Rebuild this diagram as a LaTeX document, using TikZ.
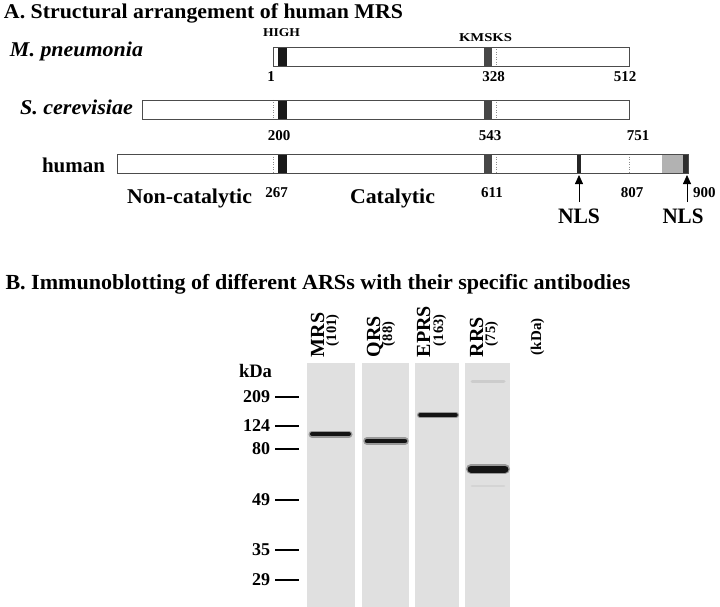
\documentclass[tikz,border=0pt]{standalone}
\usepackage{fontspec}
\setmainfont{Liberation Serif}
\usetikzlibrary{arrows.meta}
\newcommand{\fw}[2]{\resizebox{#1}{\height}{#2}}
\newcommand{\fsz}[1]{\fontsize{#1}{#1}\selectfont}
\begin{document}
\begin{tikzpicture}[x=1pt,y=-1pt,
  txt/.style={inner sep=0pt, outer sep=0pt},
  baroutline/.style={draw=black!70, line width=0.9pt},
  barfill/.style={fill=white},
  hband/.style={fill=black!90},
  kband/.style={fill=black!72},
  dotl/.style={draw=black!45, dotted, line width=0.5pt},
  marktick/.style={line width=2.6pt, draw=black},
  lane/.style={fill=black!12},
  wband/.style={line width=#1, draw=black!92, line cap=round},
  hband2/.style={line width=#1, draw=black!40, line cap=round},
  fband/.style={line width=#1, draw=black!22, line cap=round},
  nlsarrow/.style={draw=black, line width=0.8pt, -{Triangle[width=8pt,length=9pt]}},
]
\useasboundingbox (0,0) rectangle (720,607);

% ---------------- Section A ----------------
\node[txt, anchor=base west] (titleA) at (4,19) {\fw{399pt}{\fsz{21}\bfseries A. Structural arrangement of human MRS}};

\node[txt, anchor=base west] (high) at (263,37) {\fw{37pt}{\fsz{12}\bfseries HIGH}};
\node[txt, anchor=base west] (kmsks) at (459,42) {\fw{53pt}{\fsz{12}\bfseries KMSKS}};

% M. pneumonia
\node[txt, anchor=base west] (mpn) at (10,57) {\fw{133pt}{\fsz{21}\bfseries\itshape M. pneumonia}};
\fill[barfill] (273,47) rectangle (629,66);
\fill[hband] (278,47) rectangle (287,66);
\fill[kband] (484,47) rectangle (492,66);
\draw[dotl] (496,47) -- (496,66);
\draw[baroutline] (273,47) rectangle (629,66);
\node[txt, anchor=base] (n1) at (271,82) {\fsz{15}\bfseries 1};
\node[txt, anchor=base] (n328) at (493.5,82) {\fsz{15}\bfseries 328};
\node[txt, anchor=base] (n512) at (625,82) {\fsz{15}\bfseries 512};

% S. cerevisiae
\node[txt, anchor=base west] (scer) at (20,115) {\fw{113pt}{\fsz{21}\bfseries\itshape S. cerevisiae}};
\fill[barfill] (142,100) rectangle (629,119);
\draw[dotl] (273,100) -- (273,119);
\fill[hband] (278,100) rectangle (287,119);
\fill[kband] (484,100) rectangle (492,119);
\draw[dotl] (496,100) -- (496,119);
\draw[baroutline] (142,100) rectangle (629,119);
\node[txt, anchor=base] (n200) at (279,140) {\fsz{15}\bfseries 200};
\node[txt, anchor=base] (n543) at (490,140) {\fsz{15}\bfseries 543};
\node[txt, anchor=base] (n751) at (638,140) {\fsz{15}\bfseries 751};

% human
\node[txt, anchor=base west] (human) at (42,172) {\fw{63pt}{\fsz{21}\bfseries human}};
\fill[barfill] (117,154) rectangle (688,173);
\draw[dotl] (273,154) -- (273,173);
\fill[hband] (278,154) rectangle (287,173);
\fill[kband] (484,154) rectangle (492,173);
\draw[dotl] (496,154) -- (496,173);
\fill[black!85] (577,154) rectangle (581,173);
\draw[dotl] (629,154) -- (629,173);
\fill[black!30] (662,154) rectangle (683,173);
\fill[black!82] (683,154) rectangle (688,173);
\draw[baroutline] (117,154) rectangle (688,173);

\node[txt, anchor=base west] (noncat) at (127,203) {\fw{125pt}{\fsz{21}\bfseries Non-catalytic}};
\node[txt, anchor=base west] (cat) at (350,203) {\fw{85pt}{\fsz{21}\bfseries Catalytic}};
\node[txt, anchor=base] (n267) at (276.5,197) {\fsz{15}\bfseries 267};
\node[txt, anchor=base] (n611) at (492,197) {\fsz{15}\bfseries 611};
\node[txt, anchor=base] (n807) at (632,197) {\fsz{15}\bfseries 807};
\node[txt, anchor=base west] (n900) at (693,197) {\fsz{15}\bfseries 900};

\coordinate (nlsAtail) at (579,202);
\coordinate (nlsAhead) at (579,175);
\coordinate (nlsBtail) at (687,202);
\coordinate (nlsBhead) at (687,175);
\draw[nlsarrow] (nlsAtail) -- (nlsAhead);
\draw[nlsarrow] (nlsBtail) -- (nlsBhead);
\node[txt, anchor=base] (nlsA) at (579,223) {\fw{42pt}{\fsz{22}\bfseries NLS}};
\node[txt, anchor=base] (nlsB) at (683,223) {\fw{41pt}{\fsz{22}\bfseries NLS}};

% ---------------- Section B ----------------
\node[txt, anchor=base west] (titleB) at (5.5,289) {\fw{625pt}{\fsz{21.5}\bfseries B. Immunoblotting of different ARSs with their specific antibodies}};

% lanes
\fill[lane] (307,363) rectangle (355,607);
\fill[lane] (362,363) rectangle (409,607);
\fill[lane] (415,363) rectangle (459,607);
\fill[lane] (465,363) rectangle (510,607);

% bands
\draw[fband=3pt, draw=black!20] (472,381) -- (504,381);
\draw[fband=2.5pt, draw=black!17] (472,486) -- (504,486);
\draw[hband2=7pt] (312,434) -- (349,434);
\draw[wband=4pt] (312,434) -- (349,434);
\draw[hband2=7.5pt] (367,441) -- (405,441);
\draw[wband=4.5pt] (367,441) -- (405,441);
\draw[hband2=6pt] (420,415) -- (456,415);
\draw[wband=3.5pt] (420,415) -- (456,415);
\draw[hband2=10pt] (471,469) -- (505,469);
\draw[wband=7pt] (471,469) -- (505,469);

% column labels
\node[txt, rotate=90, anchor=base west] (lMRS) at (324,357) {\fsz{20}\bfseries MRS};
\node[txt, rotate=90, anchor=base west] (sMRS) at (336,346) {\fsz{14.5}\bfseries (101)};
\node[txt, rotate=90, anchor=base west] (lQRS) at (380,357) {\fsz{20}\bfseries QRS};
\node[txt, rotate=90, anchor=base west] (sQRS) at (392,346) {\fsz{14.5}\bfseries (88)};
\node[txt, rotate=90, anchor=base west] (lEPRS) at (430,357) {\fsz{20}\bfseries EPRS};
\node[txt, rotate=90, anchor=base west] (sEPRS) at (443,346) {\fsz{14.5}\bfseries (163)};
\node[txt, rotate=90, anchor=base west] (lRRS) at (483,357) {\fsz{20}\bfseries RRS};
\node[txt, rotate=90, anchor=base west] (sRRS) at (495,346) {\fsz{14.5}\bfseries (75)};
\node[txt, rotate=90, anchor=base west] (lkDa) at (541,355) {\fsz{15}\bfseries (kDa)};

% marker scale
\node[txt, anchor=base west] (kDa) at (239,377) {\fw{33pt}{\fsz{19}\bfseries kDa}};
\node[txt, anchor=east] (m209) at (270,397) {\fsz{18}\bfseries 209};
\node[txt, anchor=east] (m124) at (270,426) {\fsz{18}\bfseries 124};
\node[txt, anchor=east] (m80) at (270,449) {\fsz{18}\bfseries 80};
\node[txt, anchor=east] (m49) at (270,500) {\fsz{18}\bfseries 49};
\node[txt, anchor=east] (m35) at (270,550) {\fsz{18}\bfseries 35};
\node[txt, anchor=east] (m29) at (270,580) {\fsz{18}\bfseries 29};
\draw[marktick] (275,397) -- (299,397);
\draw[marktick] (275,426) -- (299,426);
\draw[marktick] (275,449) -- (299,449);
\draw[marktick] (275,500) -- (299,500);
\draw[marktick] (275,550) -- (299,550);
\draw[marktick] (275,580) -- (299,580);
\end{tikzpicture}
\end{document}
